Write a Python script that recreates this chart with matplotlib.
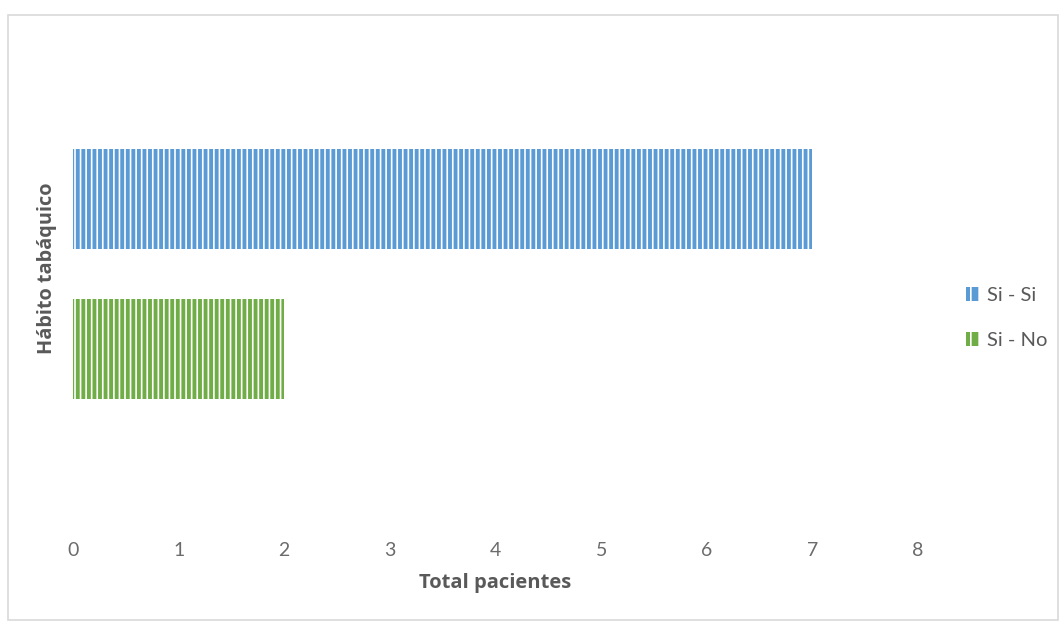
import matplotlib
matplotlib.use("Agg")
import matplotlib.pyplot as plt
from matplotlib.patches import Rectangle
import numpy as np

series = ["Si - Si", "Si - No"]
values = [7, 2]
colors = ["#5B9BD5", "#70AD47"]
xticks = [0, 1, 2, 3, 4, 5, 6, 7, 8]

plt.rcParams['hatch.linewidth'] = 1.2
fig = plt.figure(figsize=(10.62, 6.25), dpi=100)
ax = fig.add_axes([73/1062, 1-525/625, (918-73)/1062, (525-50)/625])

bar_h = 0.67
pos = [1, 0]
for s, v, c, p in zip(series, values, colors, pos):
    ax.barh(p, v, height=bar_h, color=c, edgecolor="white", linewidth=0,
            hatch="|||", label=s)

ax.set_xlim(0, 8)
ax.set_ylim(-1.18, 2.0)
ax.set_xticks(xticks)
ax.set_xticklabels([str(t) for t in xticks], fontsize=14, color="#6b6b6b",
                   family="Lato", fontweight="normal")
ax.set_yticks([])
ax.tick_params(axis="x", length=0, pad=12)
for sp in ax.spines.values():
    sp.set_visible(False)

ax.set_xlabel("Total pacientes", fontsize=14.5, fontweight="bold", color="#595959",
              labelpad=10, family="Open Sans")
fig.text(47/1062, 1-268/625, "Hábito tabáquico", rotation=90, fontsize=14.3,
         fontweight="bold", color="#595959", ha="center", va="center", family="Open Sans")

handles = [Rectangle((0, 0), 1, 1, facecolor=c, edgecolor="white", linewidth=0, hatch="||")
           for c in colors]
leg = fig.legend(handles, series, loc="center left", bbox_to_anchor=(948/1062, 1-318/625),
                 frameon=False, handlelength=0.7, handleheight=0.7,
                 handletextpad=0.35, labelspacing=1.35, labelcolor="#595959",
                 prop={"family": "Lato", "size": 14.5})

fig.patches.append(Rectangle((8/1062, 5/625), 1050/1062, 605/625, transform=fig.transFigure,
                             fill=False, edgecolor="#D9D9D9", linewidth=1.2))

fig.savefig("out.png", dpi=100, facecolor="white")
